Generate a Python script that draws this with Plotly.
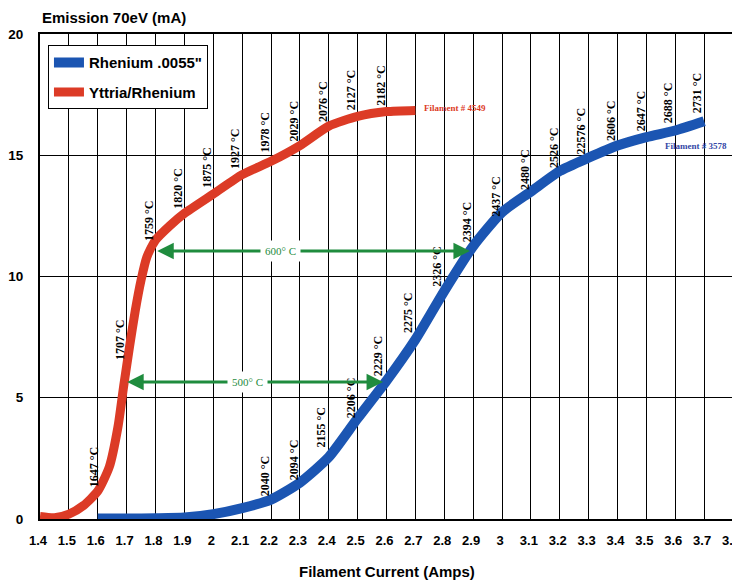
import plotly.graph_objects as go

# ---------------- data ----------------
red_name = "Yttria/Rhenium"
red_x = [1.40, 1.45, 1.50, 1.55, 1.60, 1.64, 1.67, 1.69, 1.71, 1.73, 1.75, 1.77, 1.80, 1.85,
         1.90, 2.00, 2.10, 2.20, 2.30, 2.40, 2.50, 2.60, 2.70]
red_y = [0.10, 0.05, 0.20, 0.55, 1.15, 2.15, 3.80, 5.50, 7.10, 8.60, 9.85, 10.80, 11.50, 12.10,
         12.60, 13.40, 14.20, 14.75, 15.40, 16.20, 16.60, 16.80, 16.85]

blue_name = 'Rhenium .0055"'
blue_x = [1.60, 1.70, 1.80, 1.90, 2.00, 2.10, 2.20, 2.30, 2.40, 2.50, 2.60, 2.70, 2.80, 2.90,
          3.00, 3.10, 3.20, 3.30, 3.40, 3.50, 3.60, 3.70]
blue_y = [0.02, 0.02, 0.03, 0.06, 0.20, 0.45, 0.80, 1.50, 2.55, 4.15, 5.70, 7.40, 9.40, 11.25,
          12.65, 13.50, 14.35, 14.90, 15.40, 15.75, 16.02, 16.40]

red_temps = ["1647 °C", "1707 °C", "1759 °C", "1820 °C", "1875 °C", "1927 °C", "1978 °C",
             "2029 °C", "2076 °C", "2127 °C", "2182 °C"]
red_temp_x = [1.585, 1.675, 1.775, 1.88, 1.98, 2.075, 2.18, 2.28, 2.38, 2.475, 2.58]
red_temp_y = [2.15, 7.4, 12.3, 13.6, 14.5, 15.25, 15.95, 16.4, 17.2, 17.7, 17.85]

blue_temps = ["2040 °C", "2094 °C", "2155 °C", "2206 °C", "2229 °C", "2275 °C", "2326 °C",
              "2394 °C", "2437 °C", "2480 °C", "2526 °C", "22576 °C", "2606 °C", "2647 °C",
              "2688 °C", "2731 °C"]
blue_temp_x = [2.18, 2.28, 2.375, 2.475, 2.57, 2.675, 2.775, 2.88, 2.98, 3.08, 3.18, 3.275,
               3.38, 3.48, 3.575, 3.675]
blue_temp_y = [1.77, 2.43, 3.75, 5.0, 6.7, 8.5, 10.4, 12.25, 13.3, 14.4, 15.3, 16.0, 16.4,
               16.8, 17.15, 17.55]

# temperature-difference arrows: label, y level, left tip, right tip, label x
delta_labels = ["600° C", "500° C"]
delta_y = [11.05, 5.65]
delta_left = [1.806, 1.702]
delta_right = [2.889, 2.588]
delta_label_x = [2.233, 2.118]

filament_labels = ["Filament # 4549", "Filament # 3578"]
filament_x = [2.723, 3.558]
filament_y = [16.95, 15.4]

x_ticks = [1.4, 1.5, 1.6, 1.7, 1.8, 1.9, 2.0, 2.1, 2.2, 2.3, 2.4, 2.5, 2.6, 2.7, 2.8, 2.9,
           3.0, 3.1, 3.2, 3.3, 3.4, 3.5, 3.6, 3.7, 3.8]
x_tick_text = ["1.4", "1.5", "1.6", "1.7", "1.8", "1.9", "2", "2.1", "2.2", "2.3", "2.4", "2.5",
               "2.6", "2.7", "2.8", "2.9", "3", "3.1", "3.2", "3.3", "3.4", "3.5", "3.6", "3.7",
               "3.8"]
y_ticks = [0, 5, 10, 15, 20]

# ---------------- style ----------------
SANS = "Liberation Sans Narrow, Arial Narrow, Liberation Sans, Arial, sans-serif"
SERIF = "Liberation Serif, Times New Roman, serif"
RED = "#dc3b26"
BLUE = "#1b55b2"
GREEN = "#1f8c3e"
NAVY = "#3447a6"

fig = go.Figure()
fig.add_trace(go.Scatter(x=blue_x, y=blue_y, mode="lines", name=blue_name,
                         line=dict(color=BLUE, width=10, shape="spline", smoothing=0.6),
                         legendgroup="b"))
fig.add_trace(go.Scatter(x=red_x, y=red_y, mode="lines", name=red_name,
                         line=dict(color=RED, width=9, shape="spline", smoothing=0.6),
                         legendgroup="r"))

ann = []
for t, x, y in zip(red_temps + blue_temps, red_temp_x + blue_temp_x, red_temp_y + blue_temp_y):
    ann.append(dict(x=x, y=y, xref="x", yref="y", text=t, showarrow=False, textangle=-90,
                    font=dict(family=SERIF, size=12, color="black", weight="bold")))

for lab, y, xl, xr, xt in zip(delta_labels, delta_y, delta_left, delta_right, delta_label_x):
    for tip in (xl, xr):
        ann.append(dict(x=tip, y=y, ax=xt, ay=y, xref="x", yref="y", axref="x", ayref="y",
                        text="", showarrow=True, arrowhead=2, arrowsize=1.1, arrowwidth=3,
                        arrowcolor=GREEN, standoff=0, startstandoff=0))
    ann.append(dict(x=xt, y=y, xref="x", yref="y", text=lab, showarrow=False,
                    bgcolor="white", borderpad=4,
                    font=dict(family=SERIF, size=11, color=GREEN)))

for lab, x, y, c in zip(filament_labels, filament_x, filament_y, [RED, NAVY]):
    ann.append(dict(x=x, y=y, xref="x", yref="y", text=lab, showarrow=False, xanchor="left",
                    font=dict(family=SERIF, size=9, color=c, weight="bold")))

ann.append(dict(x=0, y=1.035, xref="paper", yref="paper", text="Emission 70eV (mA)",
                showarrow=False, xanchor="left", yanchor="middle",
                font=dict(family=SANS, size=15, color="black", weight="bold")))
ann.append(dict(x=0.5, y=-0.109, xref="paper", yref="paper", text="Filament Current (Amps)",
                showarrow=False, xanchor="center", yanchor="middle",
                font=dict(family=SANS, size=15, color="black", weight="bold")))

fig.update_layout(
    width=740, height=572,
    margin=dict(l=32, r=15, t=26, b=61),
    paper_bgcolor="white", plot_bgcolor="white",
    showlegend=True,
    legend=dict(x=0.0115, y=0.977, xanchor="left", yanchor="top",
                bgcolor="white", bordercolor="black", borderwidth=1,
                font=dict(family=SANS, size=15, color="black", weight="bold"),
                traceorder="grouped", tracegroupgap=7, itemwidth=30),
    annotations=ann,
    xaxis=dict(range=[1.4, 3.8], tickvals=x_ticks, ticktext=x_tick_text,
               showgrid=True, gridcolor="black", gridwidth=1, automargin=False,
               showline=True, linecolor="black", linewidth=2, mirror=True,
               zeroline=False, ticks="", ticklabelstandoff=8, ticklabeloverflow="allow",
               ticklabelshift=-2,
               tickfont=dict(family=SANS, size=13, color="black", weight="bold")),
    yaxis=dict(range=[0, 20], tickvals=y_ticks,
               showgrid=True, gridcolor="black", gridwidth=1, automargin=False,
               showline=True, linecolor="black", linewidth=2, mirror=True,
               zeroline=False, ticks="", ticklabelstandoff=12, ticklabeloverflow="allow",
               tickfont=dict(family=SANS, size=13.5, color="black", weight="bold")),
)

fig.write_html("out.html")
